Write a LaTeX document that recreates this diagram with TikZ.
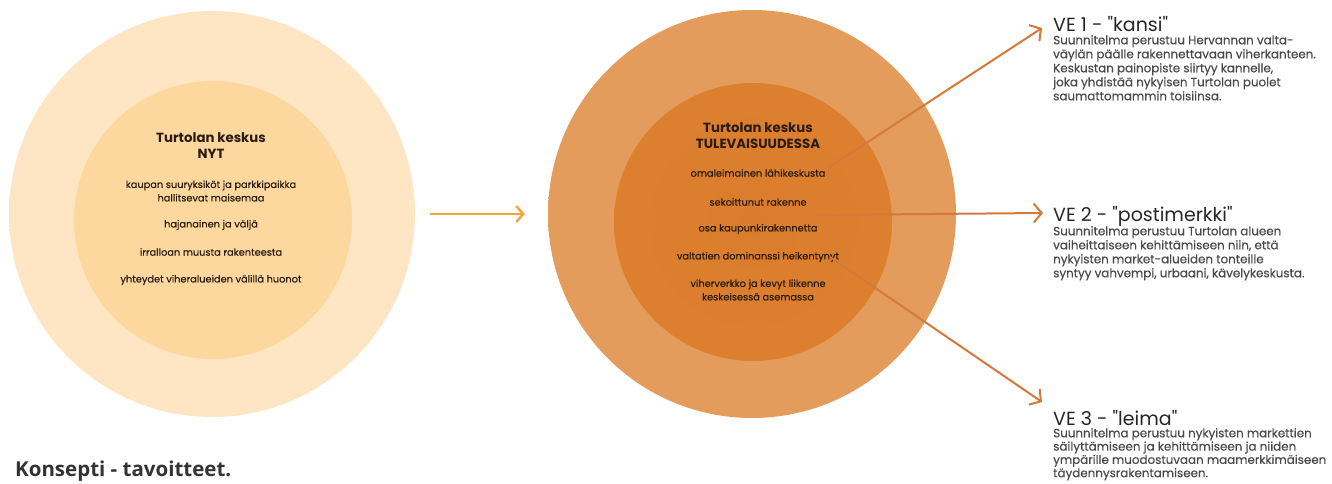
\documentclass[tikz,border=0pt]{standalone}
\usepackage{fontspec}
\setmainfont{Poppins}
\newfontfamily\itemfont{Poppins}[FakeBold=0.4]
\newfontfamily\capfont{Open Sans}
\usetikzlibrary{arrows.meta,positioning,calc}
\definecolor{nowring}{HTML}{FEE6C4}
\definecolor{nowringedge}{HTML}{FEEEDA}
\definecolor{nowcore}{HTML}{FDD89E}
\definecolor{futring}{HTML}{E49C5C}
\definecolor{futringedge}{HTML}{EEC196}
\definecolor{futcore}{HTML}{DE8535}
\definecolor{futcoremid}{HTML}{DA7C2C}
\definecolor{midarrow}{HTML}{F5A33A}
\definecolor{vearrow}{HTML}{D4793A}
\definecolor{textdark}{HTML}{2A1C10}
\definecolor{vegray}{HTML}{4A4A4A}
\pgfdeclareradialshading{nowfade}{\pgfpoint{0bp}{0bp}}{color(0bp)=(nowring); color(34bp)=(nowring); color(50bp)=(nowringedge)}
\pgfdeclareradialshading{futfade}{\pgfpoint{0bp}{0bp}}{color(0bp)=(futring); color(34bp)=(futring); color(50bp)=(futringedge)}
\pgfdeclareradialshading{corefade}{\pgfpoint{0bp}{0bp}}{color(0bp)=(futcoremid); color(50bp)=(futcore)}

\begin{document}
\begin{tikzpicture}[x=1pt,y=-1pt,
  disc/.style={circle,inner sep=0pt,minimum size=#1},
  head/.style={font=\fontsize{13.3}{16}\selectfont\bfseries,text=textdark,align=center},
  item/.style={font=\itemfont\fontsize{9.8}{13.5}\selectfont,text=textdark,align=center},
  vetitle/.style={font=\fontsize{19}{21}\selectfont,text=black!85,anchor=west,inner sep=0pt},
  vebody/.style={font=\itemfont\fontsize{11.9}{14}\selectfont,text=vegray,align=left,anchor=north west,inner sep=0pt},
  veline/.style={draw=vearrow,line width=2pt,-{Straight Barb[length=8pt,width=19pt,line width=2pt]}}]
\useasboundingbox (0,0) rectangle (1332,484);
% circles
\node[disc=406pt,shading=nowfade] (nowouter) at (212,214) {};
\node[disc=278pt,fill=nowcore] (nowinner) at (213,220) {};
\node[disc=408pt,shading=futfade] (futouter) at (752,214) {};
\node[disc=278pt,shading=corefade] (futinner) at (753,222) {};
% now
\node[head] (nowhead) at (211,146) {Turtolan keskus\\NYT};
\node[item] (now1) at (211,191) {kaupan suuryksiköt ja parkkipaikka\\hallitsevat maisemaa};
\node[item] (now2) at (211,225) {hajanainen ja väljä};
\node[item] (now3) at (211,252) {irralloan muusta rakenteesta};
\node[item] (now4) at (211,280) {yhteydet viheralueiden välillä huonot};
% future
\node[head] (futhead) at (758,136) {Turtolan keskus\\TULEVAISUUDESSA};
\node[item] (fut1) at (758,173) {omaleimainen lähikeskusta};
\node[item] (fut2) at (758,202) {sekoittunut rakenne};
\node[item] (fut3) at (758,229) {osa kaupunkirakennetta};
\node[item] (fut4) at (758,257) {valtatien dominanssi heikentynyt};
\node[item] (fut5) at (758,290) {viherverkko ja kevyt liikenne\\keskeisessä asemassa};
\draw[draw=midarrow,line width=2.4pt,-{Straight Barb[length=7pt,width=16pt,line width=2.4pt]},shorten <=15pt,shorten >=23pt] (nowouter.east) -- (futouter.west);
% variants
\node[vetitle] (ve1) at (1053,24) {VE 1 - \textquotedbl kansi\textquotedbl};
\node[vebody] (ve1txt) at (1053,35) {Suunnitelma perustuu Hervannan valta-\\väylän päälle rakennettavaan viherkanteen.\\Keskustan painopiste siirtyy kannelle,\\joka yhdistää nykyisen Turtolan puolet\\saumattomammin toisiinsa.};
\node[vetitle] (ve2) at (1053,216) {VE 2 - \textquotedbl postimerkki\textquotedbl};
\node[vebody] (ve2txt) at (1053,226) {Suunnitelma perustuu Turtolan alueen\\vaiheittaiseen kehittämiseen niin, että\\nykyisten market-alueiden tonteille\\syntyy vahvempi, urbaani, kävelykeskusta.};
\node[vetitle] (ve3) at (1053,418) {VE 3 - \textquotedbl leima\textquotedbl};
\node[vebody,font=\itemfont\fontsize{11.9}{13.3}\selectfont] (ve3txt) at (1053,428) {Suunnitelma perustuu nykyisten markettien\\säilyttämiseen ja kehittämiseen ja niiden\\ympärille muodostuvaan maamerkkimäiseen\\täydennysrakentamiseen.};
\coordinate (from1) at (828,168);
\coordinate (from2) at (817,215);
\coordinate (from3) at (830,257);
\draw[veline] (from1) -- ($(ve1.west)+(-11,4)$);
\draw[veline] (from2) -- ($(ve2.west)+(-10,-3)$);
\draw[veline] (from3) -- ($(ve3.west)+(-11,-16)$);
\node[font=\capfont\fontsize{20.5}{22}\selectfont\bfseries,text=black!80,anchor=west,inner sep=0pt] (caption) at (15,471) {Konsepti - tavoitteet.};
\end{tikzpicture}
\end{document}
